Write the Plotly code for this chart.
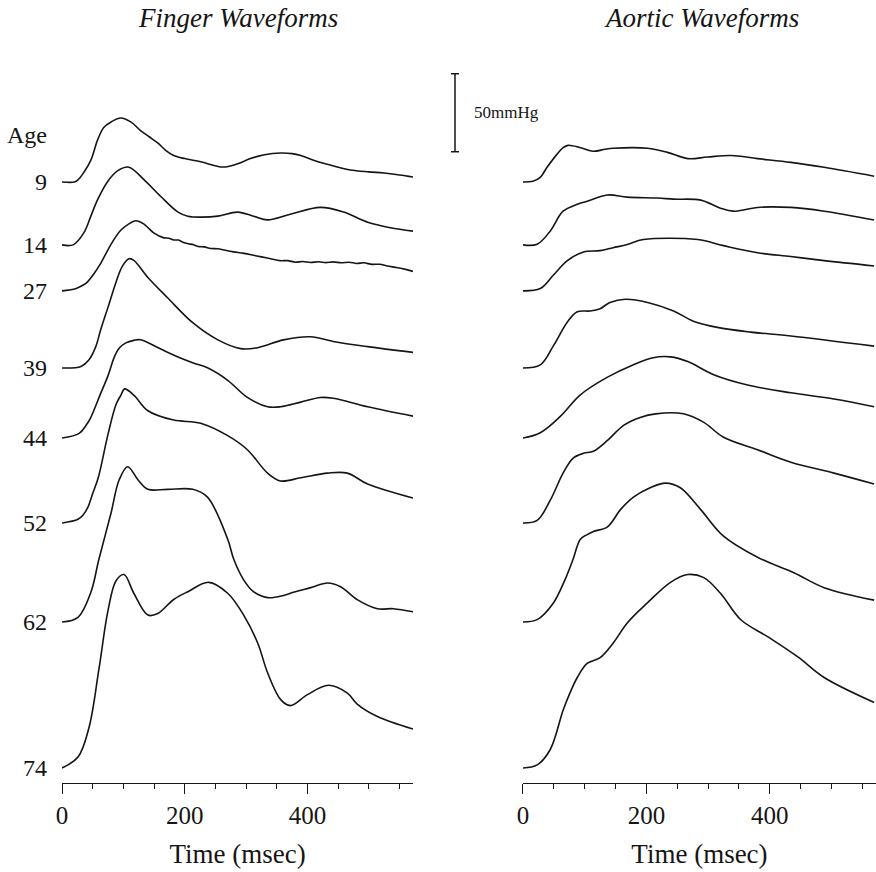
import plotly.graph_objects as go

# ---------------- data (time in msec, pressure above baseline in mmHg) ----------------
ages = ["9", "14", "27", "39", "44", "52", "62", "74"]
row_offset_mmHg = [375.6, 335.3, 305.8, 256.4, 211.5, 157.0, 93.6, 0.0]

finger_09_t = [0, 20, 26, 36, 47, 58, 68, 80, 96, 112, 128, 142, 156, 170, 182, 200, 226, 262, 285, 307,
               330, 356, 375, 389, 410, 426, 450, 470, 500, 524, 550, 572]
finger_09_p = [0, 0, 1.3, 6.4, 14, 27, 35, 38.5, 41, 38.5, 33, 29, 25, 20, 17, 15, 13, 9.6, 11.5, 15,
               17.5, 18.6, 18.2, 17, 14, 12, 9.5, 7.7, 6.5, 5.8, 4.5, 3.2]

finger_14_t = [0, 18, 36, 47, 58, 75, 91, 109, 133, 161, 189, 205, 226, 254, 286, 312, 335, 372, 421, 459, 498, 535, 572]
finger_14_p = [0, 0, 8, 18.4, 29, 41, 47.6, 49.8, 42, 31, 21, 18.4, 17.8, 18.4, 21, 18.4, 16, 19.6, 24, 21, 14.5, 11, 8.8]

finger_27_t = [0, 19, 39, 52, 63, 80, 96, 109, 120, 133, 150, 166, 174, 182, 190, 198, 206, 214, 222, 232,
               242, 254, 266, 280, 295, 310, 325, 340, 355, 368, 380, 392, 405, 418, 430, 442, 455,
               468, 480, 492, 505, 518, 530, 545, 560, 572]
finger_27_p = [0, 1, 4.8, 11, 17.6, 30, 39, 43, 45, 43, 37, 34, 33.8, 32.6, 32.6, 31, 30.2, 29.6, 28.4, 28.2,
               27.2, 27, 26, 25, 24.2, 23, 21.8, 20.6, 19.4, 19.4, 18.4, 18.8, 18.2, 18.7, 18.1, 18.6, 18,
               18.4, 17.6, 18, 17, 17.1, 16, 15, 13.8, 12.5]

finger_39_t = [0, 31, 44, 55, 63, 75, 88, 98, 109, 117, 140, 172, 213, 254, 291, 319, 361, 405, 442, 498, 572]
finger_39_p = [0, 1, 5.3, 13.7, 24.5, 39, 55, 65, 70, 69, 58, 45, 29, 18, 12.4, 13, 18, 20, 17, 13.7, 10]

finger_44_t = [0, 28, 39, 47, 63, 75, 85, 93, 104, 117, 128, 161, 189, 215, 237, 270, 302, 335, 356, 389,
               421, 442, 498, 572]
finger_44_p = [0, 3, 8, 13.3, 28.6, 40, 51.7, 57.5, 61, 62.6, 63, 57, 52, 48, 45, 37, 26, 20, 20, 23,
               26, 25.5, 20, 14]

finger_52_t = [0, 26, 34, 42, 50, 59, 75, 88, 96, 102, 117, 140, 182, 226, 270, 302, 335, 356, 389, 433,
               465, 498, 572]
finger_52_p = [0, 2.4, 5, 10, 19, 29, 57, 76, 82, 86, 82, 72, 66, 64, 56, 47, 32, 27, 29, 32,
               32, 25, 16]

finger_62_t = [0, 26, 47, 60, 80, 93, 107, 124, 140, 172, 213, 237, 270, 280, 296, 312, 335, 361, 377, 405,
               433, 454, 481, 514, 540, 572]
finger_62_p = [0, 3, 19, 40, 70, 91, 99.5, 91, 85, 85, 85, 80, 53, 40, 27, 19.4, 15.6, 17, 19, 22,
               25, 22.6, 14.3, 8.5, 8.5, 6.5]

finger_74_t = [0, 26, 44, 60, 75, 88, 101, 117, 140, 156, 182, 205, 239, 270, 296, 319, 335, 356, 372,
               400, 434, 465, 481, 514, 572]
finger_74_p = [0, 7, 26, 63, 101, 120, 124, 112, 98, 99, 108, 113, 119, 112, 98, 80, 61, 44, 40,
               47, 53, 48, 41, 33, 25]

aortic_09_t = [0, 16, 28, 39, 55, 65, 73, 93, 114, 133, 146, 202, 234, 267, 299, 337, 380, 434, 488, 569]
aortic_09_p = [0, 0.5, 3, 9.4, 17.7, 22, 23.5, 22, 19.7, 21, 21.6, 21.6, 19, 15, 16, 17, 15, 12.6, 9.4, 3.7]

aortic_14_t = [0, 23, 44, 65, 88, 104, 137, 169, 218, 244, 288, 320, 341, 380, 434, 488, 569]
aortic_14_p = [0, 0.4, 8.8, 21.6, 26, 28, 32, 30.6, 30, 29.3, 28.7, 23.5, 21.6, 24, 24, 21.6, 16]

aortic_27_t = [0, 28, 49, 72, 98, 125, 146, 169, 195, 283, 325, 380, 434, 488, 569]
aortic_27_p = [0, 1.5, 10, 19.4, 25, 25.8, 27.7, 29.7, 32.9, 32.9, 29, 24.5, 22, 19.4, 16]

aortic_39_t = [0, 28, 49, 72, 88, 109, 125, 141, 166, 202, 244, 276, 315, 369, 434, 569]
aortic_39_p = [0, 2, 14, 29.5, 36, 36.5, 38, 42, 44, 42, 36.5, 30, 26, 23, 20.5, 14]

aortic_44_t = [0, 28, 60, 93, 137, 179, 211, 239, 267, 309, 364, 434, 504, 569]
aortic_44_p = [0, 3.4, 13.7, 27.7, 39, 47, 51.5, 52, 49, 40.6, 34, 29, 25, 20]

aortic_52_t = [0, 23, 44, 65, 81, 98, 114, 137, 163, 190, 215, 260, 293, 325, 380, 434, 504, 569]
aortic_52_p = [0, 1.7, 14.5, 32, 41.5, 44.7, 46, 53, 62.6, 67.7, 70, 70, 64.5, 55, 47, 39, 32, 25]

aortic_62_t = [0, 23, 49, 68, 81, 93, 104, 114, 137, 158, 179, 206, 231, 255, 288, 325, 380, 439, 488, 569]
aortic_62_p = [0, 1.5, 12, 27, 40, 53, 56, 58, 61, 72, 80, 86, 89, 86, 72, 55, 41.5, 31.6, 22, 14]

aortic_74_t = [0, 23, 44, 65, 76, 88, 104, 125, 146, 169, 202, 239, 267, 293, 320, 353, 397, 446, 488, 569]
aortic_74_p = [0, 2, 11.7, 37, 48, 58, 67, 70.7, 80, 93, 106, 119, 124, 122, 112, 95, 84, 71, 58, 42]

finger_t = [finger_09_t, finger_14_t, finger_27_t, finger_39_t, finger_44_t, finger_52_t, finger_62_t, finger_74_t]
finger_p = [finger_09_p, finger_14_p, finger_27_p, finger_39_p, finger_44_p, finger_52_p, finger_62_p, finger_74_p]
aortic_t = [aortic_09_t, aortic_14_t, aortic_27_t, aortic_39_t, aortic_44_t, aortic_52_t, aortic_62_t, aortic_74_t]
aortic_p = [aortic_09_p, aortic_14_p, aortic_27_p, aortic_39_p, aortic_44_p, aortic_52_p, aortic_62_p, aortic_74_p]

x_ticks = [0, 200, 400]
scale_bar_mmHg = 50

# ---------------- figure ----------------
SERIF = "Liberation Serif, Times New Roman, serif"
INK = "#151515"

fig = go.Figure()
for i, age in enumerate(ages):
    off = row_offset_mmHg[i]
    fig.add_trace(go.Scatter(
        x=finger_t[i], y=[v + off for v in finger_p[i]], mode="lines",
        line=dict(color=INK, width=1.6, shape="spline", smoothing=1.0 if age != "27" else 0.6),
        name=f"Finger, age {age}", xaxis="x", yaxis="y", showlegend=False))
    fig.add_trace(go.Scatter(
        x=aortic_t[i], y=[v + off for v in aortic_p[i]], mode="lines",
        line=dict(color=INK, width=1.6, shape="spline", smoothing=1.0),
        name=f"Aortic, age {age}", xaxis="x2", yaxis="y2", showlegend=False))

yrange = [-9.6, 453.8]
xaxis_common = dict(
    range=[0, 572], tickvals=x_ticks, ticks="outside", ticklen=10, tickwidth=1,
    tickcolor=INK, showline=True, linecolor=INK, linewidth=1.2,
    showgrid=False, zeroline=False, automargin=False,
    minor=dict(dtick=50, tick0=0, ticks="outside", ticklen=5, tickwidth=1, tickcolor=INK),
    tickfont=dict(family=SERIF, size=25, color=INK),
    title=dict(text="Time (msec)", font=dict(family=SERIF, size=27, color=INK), standoff=16),
)

fig.update_layout(
    width=876, height=872,
    margin=dict(l=0, r=0, t=0, b=0, pad=0),
    paper_bgcolor="white", plot_bgcolor="white",
    xaxis=dict(domain=[0.0708, 0.4715], anchor="y", **xaxis_common),
    xaxis2=dict(domain=[0.597, 1.0], anchor="y2", **xaxis_common),
    yaxis=dict(domain=[0.1021, 0.9312], range=yrange, anchor="x", automargin=False,
               tickvals=row_offset_mmHg, ticktext=ages, ticks="", showline=False,
               showgrid=False, zeroline=False, ticklabelstandoff=14,
               tickfont=dict(family=SERIF, size=24, color=INK)),
    yaxis2=dict(domain=[0.1021, 0.9312], range=yrange, anchor="x2", visible=False, automargin=False),
    annotations=[
        dict(text="<i>Finger Waveforms</i>", x=238 / 876, y=1 - 18 / 872, xref="paper", yref="paper",
             xanchor="center", yanchor="middle", showarrow=False,
             font=dict(family=SERIF, size=27, color=INK)),
        dict(text="<i>Aortic Waveforms</i>", x=701 / 876, y=1 - 18 / 872, xref="paper", yref="paper",
             xanchor="center", yanchor="middle", showarrow=False,
             font=dict(family=SERIF, size=27, color=INK)),
        dict(text="Age", x=49 / 876, y=405.8, xref="paper", yref="y",
             xanchor="right", yanchor="middle", showarrow=False,
             font=dict(family=SERIF, size=24, color=INK)),
        dict(text=f"{scale_bar_mmHg}mmHg", x=472 / 876, y=395 + scale_bar_mmHg / 2, xref="paper", yref="y",
             xanchor="left", yanchor="middle", showarrow=False,
             font=dict(family=SERIF, size=17, color=INK)),
    ],
    shapes=[
        dict(type="line", xref="paper", yref="y", x0=455 / 876, x1=455 / 876,
             y0=395, y1=395 + scale_bar_mmHg, line=dict(color=INK, width=1.5)),
        dict(type="line", xref="paper", yref="y", x0=451 / 876, x1=459 / 876,
             y0=395, y1=395, line=dict(color=INK, width=1.5)),
        dict(type="line", xref="paper", yref="y", x0=451 / 876, x1=459 / 876,
             y0=395 + scale_bar_mmHg, y1=395 + scale_bar_mmHg, line=dict(color=INK, width=1.5)),
    ],
)

fig.write_html("out.html")
